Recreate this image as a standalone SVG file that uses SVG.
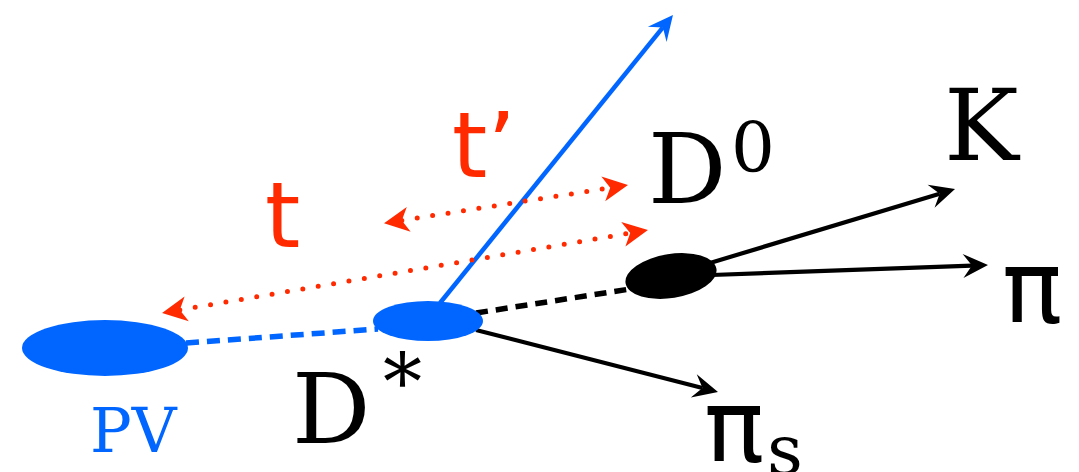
<svg xmlns="http://www.w3.org/2000/svg" width="1079" height="472" viewBox="0 0 1079 472">
  <style>
    .blue { fill: #0066ff; }
    .black { fill: #000000; }
    .dotred { fill: none; stroke: #ff2a00; stroke-width: 5; stroke-linecap: round; stroke-dasharray: 0 15.6; }
    .solid-k { fill: none; stroke: #000; stroke-width: 4.2; }
    .solid-b { fill: none; stroke: #0066ff; stroke-width: 4.5; }
    .dash-b { fill: none; stroke: #0066ff; stroke-width: 5.5; stroke-dasharray: 13 8; }
    .dash-k { fill: none; stroke: #000; stroke-width: 5.5; stroke-dasharray: 12 8; }
    .tlabel { font-family: "DejaVu Sans", sans-serif; font-size: 90px; fill: #ff2a00; }
    .serif { font-family: "DejaVu Serif", "Liberation Serif", serif; fill: #000; }
    .pi { font-family: "DejaVu Sans", sans-serif; fill: #000; }
  </style>
  <defs>
    <marker id="redHead" viewBox="-10 -14 30 28" refX="0" refY="0" markerWidth="30" markerHeight="28" markerUnits="userSpaceOnUse" orient="auto-start-reverse">
      <path d="M18,0 L-7,-12.5 L0,0 L-7,12.5 Z" fill="#ff2a00"/>
    </marker>
    <marker id="blackHead" viewBox="-10 -13 28 26" refX="0" refY="0" markerWidth="28" markerHeight="26" markerUnits="userSpaceOnUse" orient="auto">
      <path d="M16,0 L-9,-12 L0,0 L-9,12 Z" fill="#000"/>
    </marker>
    <marker id="blueHead" viewBox="-10 -13 28 26" refX="0" refY="0" markerWidth="28" markerHeight="26" markerUnits="userSpaceOnUse" orient="auto">
      <path d="M16,0 L-9,-12 L0,0 L-9,12 Z" fill="#0066ff"/>
    </marker>
  </defs>

  <g id="connectors">
    <line class="dash-b" x1="186" y1="343" x2="378" y2="329"/>
    <line class="dash-k" x1="476" y1="313" x2="630" y2="289"/>
    <line class="solid-b" x1="440" y1="303" x2="662.9" y2="27.4" marker-end="url(#blueHead)"/>
    <line class="solid-k" x1="710" y1="263" x2="939.7" y2="193.7" marker-end="url(#blackHead)"/>
    <line class="solid-k" x1="712" y1="275" x2="972" y2="265.6" marker-end="url(#blackHead)"/>
    <line class="solid-k" x1="476" y1="330" x2="702.5" y2="388" marker-end="url(#blackHead)"/>
    <line class="dotred" x1="401.8" y1="220.4" x2="610.2" y2="187.8" marker-start="url(#redHead)" marker-end="url(#redHead)"/>
    <line class="dotred" x1="179.8" y1="310" x2="630.2" y2="233.1" marker-start="url(#redHead)" marker-end="url(#redHead)"/>
  </g>

  <g id="PV">
    <ellipse class="blue" cx="105" cy="348" rx="83" ry="28"/>
    <text x="90" y="452" class="serif" style="fill:#0066ff" font-size="62">PV</text>
  </g>

  <g id="Dstar">
    <ellipse class="blue" cx="428" cy="321" rx="55" ry="20"/>
    <text x="292" y="443" class="serif" font-size="98">D</text>
    <text x="383" y="410" class="serif" font-size="78">*</text>
  </g>

  <g id="D0">
    <ellipse class="black" cx="671" cy="276" rx="46" ry="22" transform="rotate(-9 671 276)"/>
    <text x="648" y="203" class="serif" font-size="98">D</text>
    <text x="731" y="172" class="serif" font-size="69">0</text>
  </g>

  <g id="K">
    <text x="944" y="160" class="serif" font-size="100">K</text>
  </g>

  <g id="pi">
    <text x="1002" y="323" class="pi" font-size="100">π</text>
  </g>

  <g id="pis">
    <text x="704" y="462" class="pi" font-size="100">π</text>
    <text x="767" y="474" class="serif" font-size="70">s</text>
  </g>

  <g id="t-label">
    <text x="265" y="247" class="tlabel">t</text>
  </g>

  <g id="tprime-label">
    <text x="452" y="177" class="tlabel">t’</text>
  </g>
</svg>
